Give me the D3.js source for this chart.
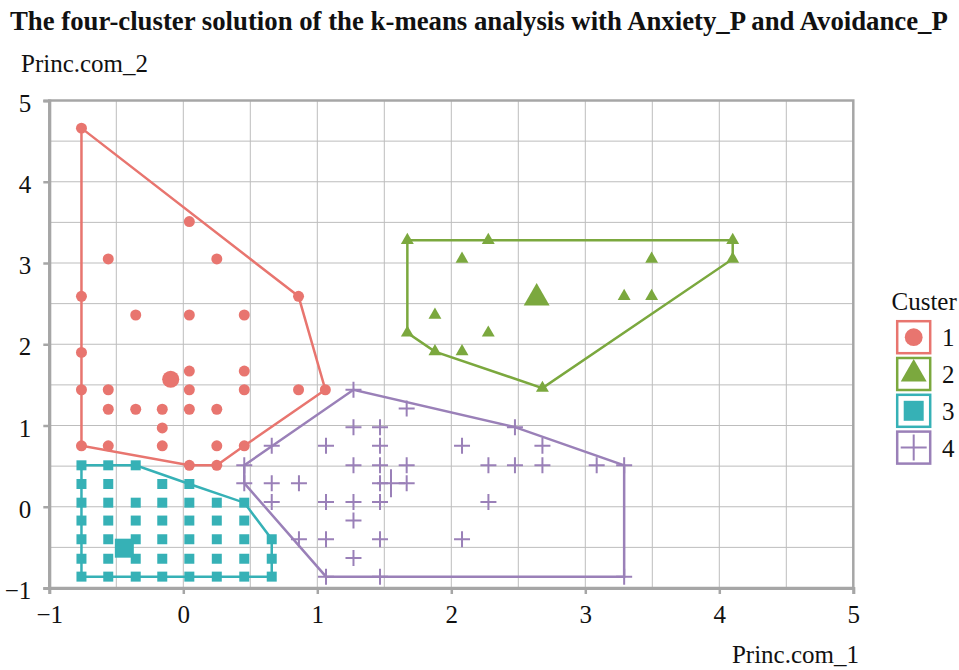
<!DOCTYPE html>
<html>
<head>
<meta charset="utf-8">
<script src="https://cdn.jsdelivr.net/npm/d3@7"></script>
<style>
  body { margin: 0; background: #fff; }
</style>
</head>
<body>
<svg width="959" height="670"></svg>
<script>
"use strict";

const title = "The four-cluster solution of the k-means analysis with Anxiety_P and Avoidance_P";
const xTicks = [-1, 0, 1, 2, 3, 4, 5];
const yTicks = [-1, 0, 1, 2, 3, 4, 5];
const clusterNames = ["1", "2", "3", "4"];
const colors = ["#e8756f", "#7ba83e", "#36b1b6", "#9a80b8"];
const FONT = "'Liberation Serif'";

// cluster 1 (circles)
const cluster1 = [
  [-0.76, 4.66], [0.045, 3.51], [-0.56, 3.05], [0.25, 3.05], [-0.76, 2.59], [0.86, 2.59],
  [-0.355, 2.36], [0.045, 2.36], [0.455, 2.36], [-0.76, 1.90], [0.045, 1.67], [0.455, 1.67],
  [-0.76, 1.44], [-0.56, 1.44], [0.045, 1.44], [0.455, 1.44], [0.86, 1.44], [1.06, 1.44],
  [-0.56, 1.20], [-0.355, 1.20], [-0.157, 1.20], [0.045, 1.20], [0.25, 1.20], [-0.157, 0.97],
  [-0.76, 0.75], [-0.56, 0.75], [-0.157, 0.75], [0.25, 0.75], [0.455, 0.75],
  [0.045, 0.51], [0.25, 0.51]
];
const hull1 = [[-0.76, 4.66], [0.86, 2.59], [1.06, 1.44], [0.455, 0.75], [0.25, 0.51], [0.045, 0.51], [-0.76, 0.75]];

// cluster 2 (triangles)
const cluster2 = [
  [1.672, 3.28], [2.276, 3.28], [4.10, 3.28], [2.08, 3.05], [3.495, 3.05], [4.10, 3.05],
  [3.29, 2.59], [3.495, 2.59], [1.878, 2.36], [1.672, 2.14], [2.276, 2.14],
  [1.878, 1.91], [2.08, 1.91], [2.68, 1.46]
];
const hull2 = [[1.672, 3.28], [4.10, 3.28], [4.10, 3.05], [2.68, 1.46], [1.878, 1.91], [1.672, 2.14]];

// cluster 3 (squares)
const cluster3 = [
  [-0.76, 0.51], [-0.56, 0.51], [-0.355, 0.51],
  [-0.76, 0.28], [-0.56, 0.28], [-0.157, 0.28], [0.045, 0.28],
  [-0.76, 0.05], [-0.56, 0.05], [-0.355, 0.05], [-0.157, 0.05], [0.045, 0.05], [0.25, 0.05], [0.455, 0.05],
  [-0.76, -0.17], [-0.56, -0.17], [-0.355, -0.17], [-0.157, -0.17], [0.045, -0.17], [0.25, -0.17], [0.455, -0.17],
  [-0.76, -0.40], [-0.56, -0.40], [-0.355, -0.40], [-0.157, -0.40], [0.045, -0.40], [0.25, -0.40], [0.455, -0.40], [0.66, -0.40],
  [-0.76, -0.64], [-0.56, -0.64], [-0.355, -0.64], [-0.157, -0.64], [0.045, -0.64], [0.25, -0.64], [0.455, -0.64], [0.66, -0.64],
  [-0.76, -0.86], [-0.56, -0.86], [-0.355, -0.86], [-0.157, -0.86], [0.045, -0.86], [0.25, -0.86], [0.455, -0.86], [0.66, -0.86]
];
const hull3 = [[-0.76, 0.51], [-0.355, 0.51], [0.045, 0.28], [0.455, 0.05], [0.66, -0.40], [0.66, -0.86], [-0.76, -0.86]];

// cluster 4 (crosses)
const cluster4 = [
  [1.27, 1.44], [1.667, 1.21], [1.27, 0.98], [1.468, 0.98], [2.475, 0.98],
  [0.66, 0.75], [1.065, 0.75], [1.468, 0.75], [2.08, 0.75], [2.68, 0.75],
  [0.455, 0.51], [1.27, 0.51], [1.468, 0.51], [1.667, 0.51], [2.277, 0.51], [2.475, 0.51], [2.68, 0.51], [3.085, 0.51], [3.29, 0.51],
  [0.455, 0.29], [0.66, 0.29], [0.863, 0.29], [1.468, 0.29], [1.667, 0.29],
  [0.66, 0.06], [1.065, 0.06], [1.27, 0.06], [1.468, 0.06], [2.277, 0.06],
  [1.27, -0.17],
  [0.863, -0.40], [1.065, -0.40], [1.468, -0.40], [2.08, -0.40],
  [1.27, -0.63],
  [1.065, -0.86], [1.468, -0.86], [3.29, -0.86]
];
const hull4 = [[0.455, 0.51], [1.27, 1.44], [2.475, 0.98], [3.29, 0.51], [3.29, -0.86], [1.065, -0.86], [0.455, 0.29]];

// cluster centres
const centres = [[-0.094, 1.57], [2.637, 2.57], [-0.44, -0.51], [1.55, 0.29]];

const svg = d3.select("svg");
const plot = { left: 49.3, right: 853.3, top: 100.5, bottom: 588 };

const x = d3.scaleLinear().domain([-1, 5]).range([plot.left, plot.right]);
const y = d3.scaleLinear().domain([-1, 5]).range([plot.bottom, plot.top]);

const label = sel => sel.style("font-family", FONT).attr("fill", "#111");

// grid
const grid = svg.append("g").attr("stroke", "#bdbdbd").attr("stroke-width", 1);
d3.range(-0.5, 5, 0.5).forEach(v => {
  grid.append("line").attr("x1", x(v)).attr("x2", x(v)).attr("y1", y(-1)).attr("y2", y(5));
  grid.append("line").attr("x1", x(-1)).attr("x2", x(5)).attr("y1", y(v)).attr("y2", y(v));
});

// frame
svg.append("rect")
  .attr("x", plot.left).attr("y", plot.top)
  .attr("width", plot.right - plot.left).attr("height", plot.bottom - plot.top)
  .attr("fill", "none").attr("stroke", "#a6a6a6").attr("stroke-width", 2.5);

// axes
const fmt = d => d < 0 ? "\u2212" + Math.abs(d) : d;
const xAxis = d3.axisBottom(x).tickValues(xTicks).tickSize(6).tickFormat(fmt);
const yAxis = d3.axisLeft(y).tickValues(yTicks).tickSize(6).tickFormat(fmt);

const gx = svg.append("g").attr("transform", `translate(0,${plot.bottom})`).call(xAxis);
const gy = svg.append("g").attr("transform", `translate(${plot.left},0)`).call(yAxis);
[gx, gy].forEach(g => {
  g.attr("font-family", null).attr("font-size", null);
  g.select(".domain").attr("stroke", "#a6a6a6").attr("stroke-width", 3);
  g.selectAll(".tick line").attr("stroke", "#a6a6a6").attr("stroke-width", 2.5);
  g.selectAll(".tick text").call(label).style("font-size", "25px");
});
gx.selectAll(".tick text").attr("y", 35).attr("dy", "0");
gy.selectAll(".tick text").attr("x", -18).attr("dy", "0.42em");

// titles
const titleText = svg.append("text")
  .attr("x", 10).attr("y", 30)
  .call(label)
  .style("font-weight", "bold")
  .style("font-size", "24px")
  .text(title);
const tw = titleText.node().getComputedTextLength();
titleText.style("font-size", (24 * 938 / tw).toFixed(2) + "px");

svg.append("text").attr("x", 21).attr("y", 72).call(label).style("font-size", "25px").text("Princ.com_2");
svg.append("text").attr("x", 859).attr("y", 663).attr("text-anchor", "end")
  .call(label).style("font-size", "25px").text("Princ.com_1");

// hulls
const line = d3.line().x(d => x(d[0])).y(d => y(d[1])).curve(d3.curveLinearClosed);
const hulls = [hull1, hull2, hull3, hull4];
const clusters = [cluster1, cluster2, cluster3, cluster4];

const crossPath = s => `M${-s},0H${s}M0,${-s}V${s}`;
const marker = (i, big) => {
  if (i === 0) return d3.symbol(d3.symbolCircle, big ? 230 : 95)();
  if (i === 1) return d3.symbol(d3.symbolTriangle, big ? 290 : 72)();
  if (i === 2) return d3.symbol(d3.symbolSquare, big ? 361 : 100)();
  return crossPath(big ? 14 : 8);
};

const drawMarks = (g, i, pts, big) => {
  g.selectAll(null)
    .data(pts)
    .enter()
    .append("path")
    .attr("transform", d => `translate(${x(d[0])},${y(d[1])})`)
    .attr("d", marker(i, big))
    .attr("fill", i === 3 ? "none" : colors[i])
    .attr("stroke", i === 3 ? colors[i] : "none")
    .attr("stroke-width", i === 3 ? 2 : 0);
};

hulls.forEach((h, i) => {
  svg.append("path")
    .datum(h)
    .attr("d", line)
    .attr("fill", "none")
    .attr("stroke", colors[i])
    .attr("stroke-width", 2.5);
});

clusters.forEach((c, i) => {
  const g = svg.append("g");
  drawMarks(g, i, c, false);
  drawMarks(g, i, [centres[i]], true);
});

// legend
const legend = svg.append("g").attr("transform", "translate(896,320)");
legend.append("text").attr("x", -4.5).attr("y", -10).call(label).style("font-size", "25px").text("Custer");
clusterNames.forEach((name, i) => {
  const row = legend.append("g").attr("transform", `translate(0,${i * 36.8})`);
  row.append("rect")
    .attr("x", 1.2).attr("y", 1.2).attr("width", 33).attr("height", 32)
    .attr("fill", "#fff").attr("stroke", colors[i]).attr("stroke-width", 2.5);
  const m = row.append("path").attr("transform", "translate(17.7,17.2)");
  if (i === 0) m.attr("d", d3.symbol(d3.symbolCircle, 250)()).attr("fill", colors[i]);
  if (i === 1) m.attr("d", d3.symbol(d3.symbolTriangle, 290)()).attr("fill", colors[i]);
  if (i === 2) m.attr("d", d3.symbol(d3.symbolSquare, 400)()).attr("fill", colors[i]);
  if (i === 3) m.attr("d", crossPath(13)).attr("fill", "none").attr("stroke", colors[i]).attr("stroke-width", 2);
  row.append("text").attr("x", 46).attr("y", 17.2)
    .attr("dy", "0.36em").call(label).style("font-size", "25px").text(name);
});
</script>
</body>
</html>
